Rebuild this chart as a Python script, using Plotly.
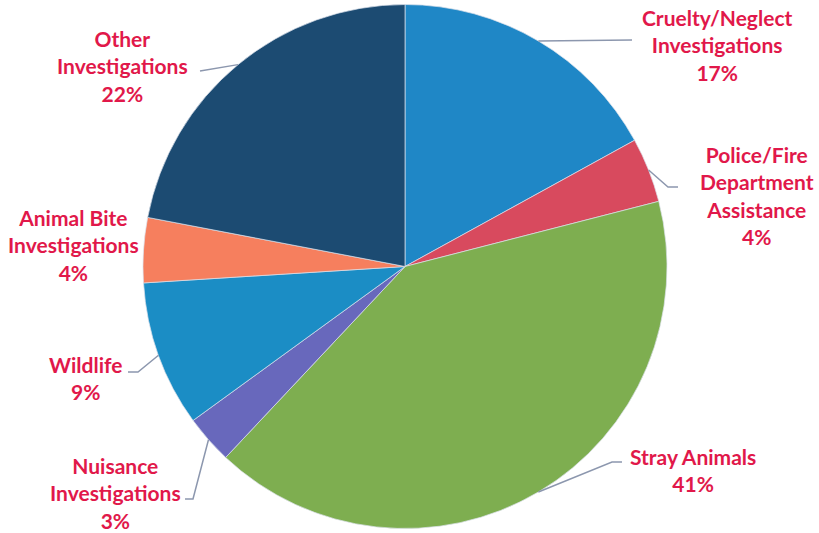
import math
import plotly.graph_objects as go

# ---- data ----
categories = ["Cruelty/Neglect Investigations", "Police/Fire Department Assistance",
              "Stray Animals", "Nuisance Investigations", "Wildlife",
              "Animal Bite Investigations", "Other Investigations"]
values = [17, 4, 41, 3, 9, 4, 22]
label_texts = ["Cruelty/Neglect<br>Investigations<br>17%",
               "Police/Fire<br>Department<br>Assistance<br>4%",
               "Stray Animals<br>41%",
               "Nuisance<br>Investigations<br>3%",
               "Wildlife<br>9%",
               "Animal Bite<br>Investigations<br>4%",
               "Other<br>Investigations<br>22%"]
colors = ["#1F87C6", "#D84A5E", "#7EAE50", "#6868BC", "#1B8DC5", "#F67F5E", "#1C4B72"]

W, H = 819, 533
cx, cy, R = 405, 266.5, 262

# label positions (pixels): text centre x, text centre y, elbow point (or None)
label_pos = [
    (717, 45, (632, 40)),
    (757, 196, (678, 187, 668, 187)),
    (693, 470, (622, 462, 612, 462)),
    (115, 493, (185, 499, 193, 499)),
    (85, 378, (128, 372, 138, 372)),
    (73, 245, None),
    (122, 66, (200, 71)),
]

fig = go.Figure(go.Pie(
    labels=categories, values=values, sort=False, direction="clockwise", rotation=0,
    marker=dict(colors=colors, line=dict(color="rgba(220,225,235,0.7)", width=1)),
    textinfo="none", hoverinfo="skip", showlegend=False,
    domain=dict(x=[(cx - R) / W, (cx + R) / W], y=[(H - cy - R) / H, (H - cy + R) / H]),
))

def px(x, y):
    return x / W, 1 - y / H

total = sum(values)
cum = 0
shapes = []
annotations = []
for v, txt, (tx, ty, elbow) in zip(values, label_texts, label_pos):
    mid = (cum + v / 2) / total * 2 * math.pi
    cum += v
    ex, ey = cx + R * math.sin(mid), cy - R * math.cos(mid)
    if elbow is not None:
        pts = [(ex, ey)]
        if len(elbow) == 4:
            pts += [(elbow[2], elbow[3]), (elbow[0], elbow[1])]
        else:
            pts += [(elbow[0], elbow[1])]
        path = "M " + " L ".join(f"{px(a, b)[0]:.5f},{px(a, b)[1]:.5f}" for a, b in pts)
        shapes.append(dict(type="path", xref="paper", yref="paper", path=path,
                           line=dict(color="#8C97AE", width=1.5)))
    x0, y0 = px(tx, ty)
    annotations.append(dict(text=txt, x=x0, y=y0, xref="paper", yref="paper",
                            xanchor="center", yanchor="middle", showarrow=False,
                            align="center",
                            font=dict(family="Lato", size=21, color="#E1184A", weight="bold")))

fig.update_layout(width=W, height=H, margin=dict(l=0, r=0, t=0, b=0),
                  paper_bgcolor="white", plot_bgcolor="white",
                  shapes=shapes, annotations=annotations)
fig.write_html("out.html", config={"displayModeBar": False},
               post_script="document.body.style.margin='0';")
